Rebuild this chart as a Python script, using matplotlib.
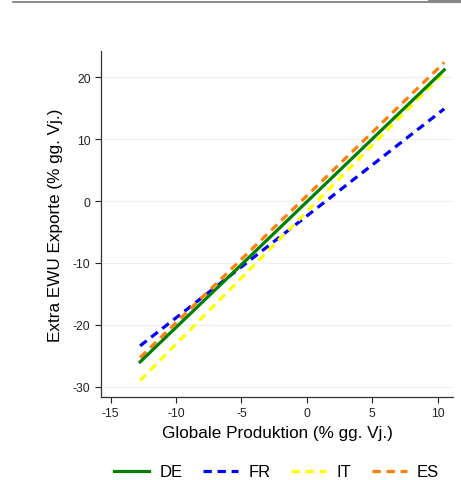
import matplotlib.pyplot as plt

plt.rcParams["font.family"] = ["Liberation Sans", "DejaVu Sans"]
plt.rcParams["axes.unicode_minus"] = False

countries = ["DE", "FR", "IT", "ES"]
colors = ["#008000", "#0000ff", "#ffff00", "#ff7f0e"]
styles = ["-", "--", "--", "--"]
x_range = [-12.75, 10.5]
y_start = [-26.0, -23.4, -29.0, -25.3]
y_end = [21.2, 14.9, 20.8, 22.4]
draw_order = [1, 2, 3, 0]

fig = plt.figure(figsize=(4.61, 4.81), dpi=100)
ax = fig.add_axes([101/461, 1-398/481, 352/461, 346/481])

for i in draw_order:
    ax.plot(x_range, [y_start[i], y_end[i]], styles[i], color=colors[i],
            lw=2.3, label=countries[i], zorder=3 + (i == 0),
            dashes=(2.6, 1.8) if styles[i] == "--" else (None, None))

ax.set_xlim(-15.74, 11.17)
ax.set_ylim(-31.67, 24.25)
ax.set_xticks([-15, -10, -5, 0, 5, 10])
ax.set_yticks([-30, -20, -10, 0, 10, 20])
ax.grid(axis="y", color="#eeeeee", lw=0.8)
ax.set_axisbelow(True)
for s in ["top", "right"]:
    ax.spines[s].set_visible(False)
for s in ["left", "bottom"]:
    ax.spines[s].set_color("#333333")
    ax.spines[s].set_linewidth(0.9)
ax.tick_params(labelsize=8.7, colors="#222222", length=4, width=0.8)
ax.set_xlabel("Globale Produktion (% gg. Vj.)", fontsize=12.3, labelpad=4)
ax.set_ylabel("Extra EWU Exporte (% gg. Vj.)", fontsize=12.3, labelpad=7)

h, l = ax.get_legend_handles_labels()
order = [l.index(c) for c in countries]
fig.legend([h[k] for k in order], countries, loc="center",
           bbox_to_anchor=(0.600, 1-473/481), ncol=4, frameon=False,
           fontsize=12, handlelength=2.1, columnspacing=1.25, handletextpad=0.6)

# grey rule at the top edge
fig.add_artist(plt.Line2D([13/461, 430/461], [1-3/481, 1-3/481], color="#777777", lw=1.2))
fig.add_artist(plt.Line2D([430/461, 1], [1-2/481, 1-2/481], color="#888888", lw=3))

fig.savefig("out.png", dpi=100)
